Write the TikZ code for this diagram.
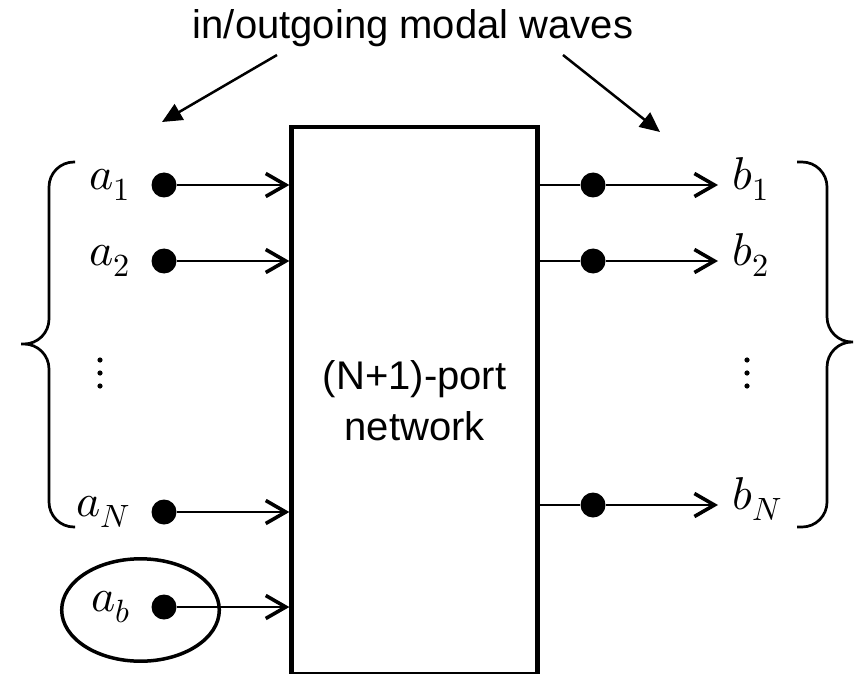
\documentclass[tikz,border=0pt]{standalone}
\usepackage{unicode-math}
\newfontfamily\arialfont{Liberation Sans}
\usepackage{tikz}
\usetikzlibrary{arrows.meta, positioning}
\tikzstyle{netbox} = [draw, line width=2.25pt, minimum width=123pt, minimum height=273.5pt, align=center, inner sep=0pt, font=\arialfont\fontsize{20}{25.5}\selectfont]
\tikzstyle{port} = [circle, fill=black, minimum size=12.5pt, inner sep=0pt]
\tikzstyle{lbl} = [inner sep=0pt, font=\fontsize{23}{27}\selectfont]
\tikzstyle{wire} = [line width=1pt]
\tikzstyle{sig} = [line width=1pt, -{Straight Barb[length=10pt, width=11.5pt, line width=1.8pt]}]
\tikzstyle{pointer} = [line width=1.25pt, -{Triangle[length=10pt, width=9pt]}]
\tikzstyle{brace} = [line width=1.35pt, rounded corners=12.5pt]

\begin{document}
\begin{tikzpicture}[x=0.5pt, y=-0.5pt]
    \useasboundingbox (0,0) rectangle (854,673);
    \node[anchor=base, font=\arialfont\fontsize{20}{24}\selectfont] (title) at (413,39) {in/outgoing modal waves};
    \coordinate (inend) at (162,122);
    \coordinate (outend) at (660,132);
    \draw[pointer] (277,55) -- (inend);
    \draw[pointer] (563,55) -- (outend);

    \node[netbox] (net) at (414.6,400.5) {(N+1)-port\\network};

    % incoming ports
    \foreach \n/\y in {1/185, 2/261, N/512, b/607}{
        \node[port] (pa\n) at (164,\y) {};
        \node[lbl, anchor=mid east] (a\n) at ([xshift=-10pt]pa\n.west) {$a_\n$};
        \draw[sig] (pa\n) -- (pa\n -| net.west);
    }
    \draw[line width=1.75pt] (140.5,610) ellipse [x radius=39.4pt, y radius=25.6pt];

    % outgoing ports
    \foreach \n/\y in {1/185, 2/261, N/505}{
        \node[port] (pb\n) at (593,\y) {};
        \coordinate (tb\n) at (718,\y);
        \draw[wire] (pb\n -| net.east) -- (pb\n);
        \draw[sig] (pb\n) -- (tb\n);
        \node[lbl, anchor=mid west] (b\n) at ([xshift=7pt]tb\n) {$b_\n$};
    }

    \foreach \x in {100,747}
        \foreach \y in {360,373,386}
            \fill (\x,\y) circle (1.3pt);

    \draw[brace] (75,162) -- (49,162) -- (49,344) -- (21,344) (21,344) -- (49,344) -- (49,527) -- (75,527);
    \draw[brace] (797,162) -- (827,162) -- (827,342) -- (853,342) (853,342) -- (827,342) -- (827,527) -- (797,527);
\end{tikzpicture}
\end{document}
